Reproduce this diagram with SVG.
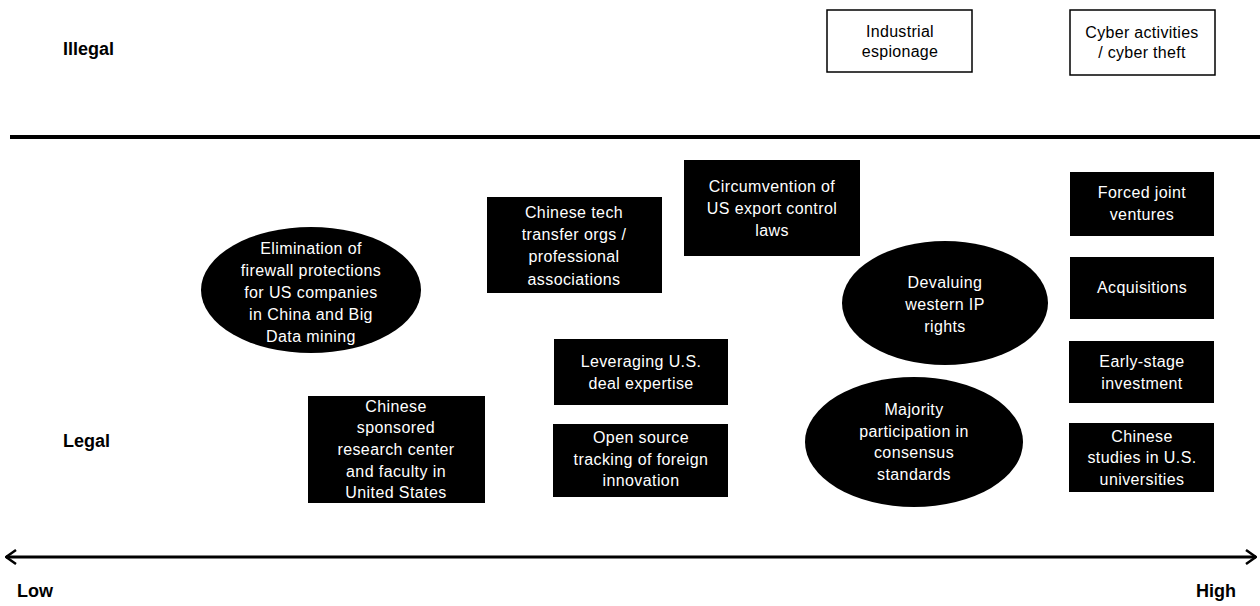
<svg xmlns="http://www.w3.org/2000/svg" width="1260" height="606" viewBox="0 0 1260 606">
<defs>
<style>
.lbl{font-family:"Liberation Sans",Arial,sans-serif;font-size:18px;font-weight:bold;fill:#000}
.ax{font-family:"Liberation Sans",Arial,sans-serif;font-size:18px;font-weight:bold;fill:#000}
.t{font-family:"Liberation Sans",Arial,sans-serif;font-size:16px;letter-spacing:0.4px;text-anchor:middle;fill:#fff}
.tb{font-family:"Liberation Sans",Arial,sans-serif;font-size:16px;letter-spacing:0.3px;text-anchor:middle;fill:#000}
.blk{fill:#000}
.wbox{fill:#fff;stroke:#000;stroke-width:1.5}
.line{stroke:#000;fill:none}
</style>
<marker id="ah" viewBox="0 0 12 16" refX="11" refY="8" markerWidth="12" markerHeight="16" markerUnits="userSpaceOnUse" orient="auto-start-reverse">
<path d="M1,1 L11,8 L1,15" fill="none" stroke="#000" stroke-width="2.5"/>
</marker>
</defs>
<rect width="1260" height="606" fill="#fff"/>

<text class="lbl" x="63" y="55">Illegal</text>
<text class="lbl" x="63" y="447">Legal</text>
<text class="ax" x="17" y="597">Low</text>
<text class="ax" x="1196" y="597">High</text>

<g id="connectors">
<line class="line" x1="10" y1="137" x2="1260" y2="137" stroke-width="4"/>
<line class="line" x1="6" y1="557" x2="1256" y2="557" stroke-width="3" marker-start="url(#ah)" marker-end="url(#ah)"/>
</g>

<g id="industrial-espionage">
<rect class="wbox" x="827" y="10" width="145" height="62"/>
<text class="tb" x="900" y="37">Industrial</text>
<text class="tb" x="900" y="57">espionage</text>
</g>

<g id="cyber-theft">
<rect class="wbox" x="1070" y="10" width="145" height="65"/>
<text class="tb" x="1142" y="38">Cyber activities</text>
<text class="tb" x="1142" y="58">/ cyber theft</text>
</g>

<g id="firewall">
<ellipse class="blk" cx="311" cy="290" rx="110" ry="63"/>
<text class="t" x="311" y="254">Elimination  of</text>
<text class="t" x="311" y="276">firewall protections</text>
<text class="t" x="311" y="298">for US companies</text>
<text class="t" x="311" y="320">in China  and Big</text>
<text class="t" x="311" y="342">Data mining</text>
</g>

<g id="tech-transfer">
<rect class="blk" x="487" y="197" width="175" height="96"/>
<text class="t" x="574" y="218">Chinese tech</text>
<text class="t" x="574" y="240">transfer orgs /</text>
<text class="t" x="574" y="262">professional</text>
<text class="t" x="574" y="285">associations</text>
</g>

<g id="export-control">
<rect class="blk" x="684" y="160" width="176" height="96"/>
<text class="t" x="772" y="192">Circumvention of</text>
<text class="t" x="772" y="214">US export control</text>
<text class="t" x="772" y="236">laws</text>
</g>

<g id="devaluing-ip">
<ellipse class="blk" cx="945" cy="303" rx="103" ry="62"/>
<text class="t" x="945" y="288">Devaluing</text>
<text class="t" x="945" y="310">western IP</text>
<text class="t" x="945" y="332">rights</text>
</g>

<g id="joint-ventures">
<rect class="blk" x="1070" y="172" width="144" height="64"/>
<text class="t" x="1142" y="198">Forced joint</text>
<text class="t" x="1142" y="220">ventures</text>
</g>

<g id="acquisitions">
<rect class="blk" x="1070" y="257" width="144" height="62"/>
<text class="t" x="1142" y="293">Acquisitions</text>
</g>

<g id="early-stage">
<rect class="blk" x="1069" y="341" width="145" height="62"/>
<text class="t" x="1142" y="367">Early-stage</text>
<text class="t" x="1142" y="389">investment</text>
</g>

<g id="chinese-studies">
<rect class="blk" x="1069" y="423" width="145" height="69"/>
<text class="t" x="1142" y="442">Chinese</text>
<text class="t" x="1142" y="463">studies in U.S.</text>
<text class="t" x="1142" y="485">universities</text>
</g>

<g id="consensus-standards">
<ellipse class="blk" cx="914" cy="442" rx="109" ry="65"/>
<text class="t" x="914" y="415">Majority</text>
<text class="t" x="914" y="437">participation in</text>
<text class="t" x="914" y="458">consensus</text>
<text class="t" x="914" y="480">standards</text>
</g>

<g id="deal-expertise">
<rect class="blk" x="554" y="339" width="174" height="66"/>
<text class="t" x="641" y="367">Leveraging U.S.</text>
<text class="t" x="641" y="389">deal expertise</text>
</g>

<g id="open-source">
<rect class="blk" x="553" y="424" width="175" height="73"/>
<text class="t" x="641" y="443">Open source</text>
<text class="t" x="641" y="465">tracking of foreign</text>
<text class="t" x="641" y="486">innovation</text>
</g>

<g id="research-center">
<rect class="blk" x="308" y="396" width="177" height="107"/>
<text class="t" x="396" y="412">Chinese</text>
<text class="t" x="396" y="433">sponsored</text>
<text class="t" x="396" y="455">research center</text>
<text class="t" x="396" y="477">and faculty in</text>
<text class="t" x="396" y="498">United States</text>
</g>
</svg>
